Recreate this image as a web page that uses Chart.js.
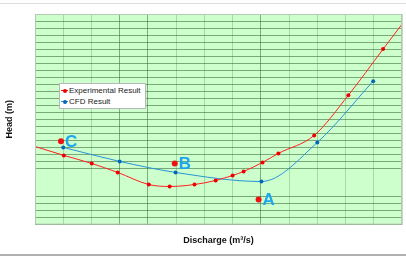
<!DOCTYPE html>
<html>
<head>
<meta charset="utf-8">
<script src="https://cdn.jsdelivr.net/npm/chart.js@4.4.1/dist/chart.umd.min.js"></script>
<style>
    body { margin: 0; background: #fff; }
    #wrap { position: relative; width: 406px; height: 259px; }
    #topLine { position: absolute; left: 0; top: 3px; width: 406px; height: 1px; background: #dddddd; }
    #bottomLine { position: absolute; left: 0; top: 254px; width: 406px; height: 2px; background: #b0b0b0; }
    #legend {
        position: absolute; left: 59px; top: 83px; width: 85px; height: 23px;
        background: #fff; border: 1px solid #b8b8b8;
        font-family: "Liberation Sans", Arial, sans-serif; font-size: 8px; color: #222;
        line-height: 11px; padding-top: 1px;
    }
    .row { position: relative; height: 11px; padding-left: 9px; white-space: nowrap; }
    .mk { position: absolute; left: 1px; top: 5px; width: 7px; height: 1px; }
    .mk i { position: absolute; left: 2px; top: -1.5px; width: 4px; height: 4px; border-radius: 2px; }
</style>
</head>
<body>
<div id="wrap">
    <div id="topLine"></div>
    <canvas id="headChart" width="406" height="259"></canvas>
    <div id="bottomLine"></div>
    <div id="legend">
        <div class="row"><span class="mk" style="background:#ff1a1a"><i style="background:#ee0000"></i></span>Experimental Result</div>
        <div class="row"><span class="mk" style="background:#2a93d8"><i style="background:#0068b8"></i></span>CFD Result</div>
    </div>
</div>
<script>
// grid units: x 0..13, y 0..30 (no tick labels in the original)
const expX = [-1, 1.02, 2.01, 2.93, 4.03, 4.77, 5.65, 6.4, 7.0, 7.39, 8.06, 8.62, 9.89, 11.1, 12.33, 13.5];
const expY = [12.4, 9.86, 8.71, 7.43, 5.71, 5.43, 5.71, 6.29, 7.0, 7.57, 8.86, 10.14, 12.71, 18.43, 25.0, 31.2];
const cfdX = [1.0, 3.0, 4.98, 8.02, 10.0, 11.98];
const cfdY = [11.0, 9.0, 7.43, 6.14, 11.71, 20.43];
const markX = [0.92, 4.95, 7.92];
const markY = [11.86, 8.71, 3.57];
const markLabels = ['C', 'B', 'A'];
const hiddenRows = [5, 6, 7];
const darkCols = [3, 4, 8];

const toPoints = (xs, ys) => xs.map((x, i) => ({ x: x, y: ys[i] }));

const pointLabels = {
    id: 'pointLabels',
    afterDatasetsDraw(chart) {
        const ctx = chart.ctx;
        const meta = chart.getDatasetMeta(2);
        ctx.save();
        ctx.font = 'bold 17px "Liberation Sans", Arial, sans-serif';
        ctx.fillStyle = '#1ea6ec';
        ctx.textBaseline = 'middle';
        meta.data.forEach((pt, i) => {
            ctx.fillText(markLabels[i], pt.x + 4, pt.y + 1);
        });
        ctx.restore();
    }
};

const frame = {
    id: 'frame',
    beforeDraw(chart) {
        const a = chart.chartArea;
        chart.ctx.save();
        chart.ctx.fillStyle = '#ccffcc';
        chart.ctx.fillRect(a.left, a.top, a.right - a.left, a.bottom - a.top);
        chart.ctx.restore();
    },
    afterDraw(chart) {
        const a = chart.chartArea;
        chart.ctx.save();
        chart.ctx.strokeStyle = '#b5c8b5';
        chart.ctx.lineWidth = 1;
        chart.ctx.strokeRect(a.left + 0.5, a.top + 0.5, a.right - a.left - 1, a.bottom - a.top - 1);
        chart.ctx.restore();
    }
};

const ctx = document.getElementById('headChart').getContext('2d');
new Chart(ctx, {
    type: 'line',
    data: {
        datasets: [{
            label: 'Experimental Result',
            data: toPoints(expX, expY),
            borderColor: '#ff2020',
            backgroundColor: '#ee0000',
            borderWidth: 1,
            pointRadius: 2,
            pointBorderWidth: 0,
            cubicInterpolationMode: 'monotone'
        }, {
            label: 'CFD Result',
            data: toPoints(cfdX, cfdY),
            borderColor: '#2a93d8',
            backgroundColor: '#0068b8',
            borderWidth: 1,
            pointRadius: 2,
            pointBorderWidth: 0,
            cubicInterpolationMode: 'monotone'
        }, {
            label: 'Points',
            data: toPoints(markX, markY),
            showLine: false,
            backgroundColor: '#ee1111',
            pointRadius: 3,
            pointBorderWidth: 0
        }]
    },
    options: {
        responsive: false,
        animation: false,
        layout: {
            padding: { left: 0, top: 14, right: 3, bottom: 9 }
        },
        scales: {
            x: {
                type: 'linear',
                min: 0,
                max: 13,
                ticks: { stepSize: 1, display: false },
                grid: {
                    drawTicks: false,
                    color: (c) => darkCols.includes(c.tick.value) ? 'rgba(60, 110, 60, 0.55)' : 'rgba(90, 150, 90, 0.35)'
                },
                border: { display: false },
                title: {
                    display: true,
                    text: 'Discharge (m\u00b3/s)',
                    color: '#111',
                    font: { family: '"Liberation Sans", Arial, sans-serif', size: 9, weight: 'bold' },
                    padding: { top: 10.6, bottom: 4 }
                }
            },
            y: {
                min: 0,
                max: 30,
                ticks: { stepSize: 1, display: false },
                grid: {
                    drawTicks: false,
                    color: (c) => hiddenRows.includes(c.tick.value) ? 'rgba(0,0,0,0)' : 'rgba(50, 100, 50, 0.55)'
                },
                border: { display: false },
                title: {
                    display: true,
                    text: 'Head (m)',
                    color: '#111',
                    font: { family: '"Liberation Sans", Arial, sans-serif', size: 9, weight: 'bold' },
                    padding: { top: 4, bottom: 20.2 }
                }
            }
        },
        plugins: {
            legend: { display: false },
            tooltip: { enabled: false }
        }
    },
    plugins: [frame, pointLabels]
});
</script>
</body>
</html>
